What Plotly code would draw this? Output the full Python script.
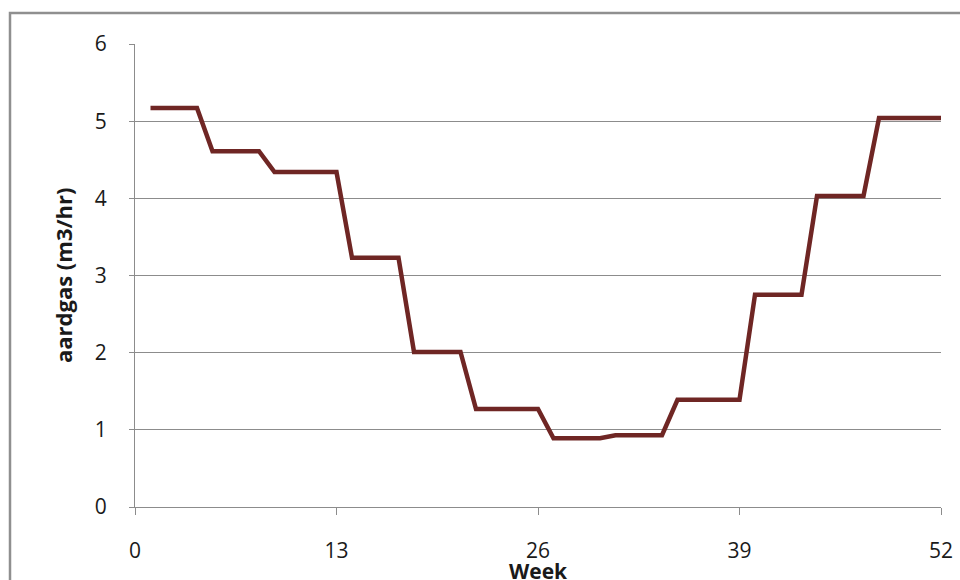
import plotly.graph_objects as go

# Weekly earth-gas consumption (monthly rates spread over weeks)
weeks = list(range(1, 53))
month_values = [5.17, 4.61, 4.34, 3.23, 2.01, 1.27, 0.89, 0.93, 1.39, 2.75, 4.03, 5.04]
weeks_per_month = [4, 4, 5, 4, 4, 5, 4, 4, 5, 4, 4, 5]
gas_rate = []
for v, n in zip(month_values, weeks_per_month):
    gas_rate.extend([v] * n)

x_ticks = [0, 13, 26, 39, 52]
y_ticks = [0, 1, 2, 3, 4, 5, 6]

W, H = 960, 580
L, R, T, B = 135, 19, 44, 73
pw, ph = W - L - R, H - T - B

font_family = "Open Sans, Lato, sans-serif"
grid_col = "#8c8c8c"

fig = go.Figure()
fig.add_trace(go.Scatter(
    x=weeks, y=gas_rate, mode="lines",
    line=dict(color="#6f2624", width=4.5),
    hoverinfo="x+y", showlegend=False,
))

fig.update_layout(
    width=W, height=H,
    margin=dict(l=L, r=R, t=T, b=B, pad=0),
    paper_bgcolor="white", plot_bgcolor="white",
    font=dict(family=font_family, size=21, color="#1a1a1a"),
    xaxis=dict(
        range=[0, 52], tickvals=x_ticks, ticktext=[str(t) for t in x_ticks],
        showgrid=False, zeroline=False, automargin=False,
        showline=True, linecolor=grid_col, linewidth=1,
        ticks="outside", ticklen=7, tickcolor=grid_col, tickwidth=1,
        ticklabelstandoff=18,
    ),
    yaxis=dict(
        range=[0, 6], tickvals=y_ticks, ticktext=[str(t) for t in y_ticks],
        showgrid=True, gridcolor=grid_col, gridwidth=1, zeroline=False,
        automargin=False,
        showline=True, linecolor=grid_col, linewidth=1,
        ticks="outside", ticklen=5, tickcolor=grid_col, tickwidth=1,
        ticklabelstandoff=18,
    ),
    annotations=[
        dict(text="<b>Week</b>", x=26, xref="x", y=-(571 - (H - B)) / ph, yref="paper",
             showarrow=False, xanchor="center", yanchor="middle",
             font=dict(size=21, family=font_family, color="#1a1a1a")),
        dict(text="<b>aardgas (m3/hr)</b>", x=(63 - L) / pw, xref="paper",
             y=((H - B) - 276) / ph, yref="paper", textangle=-90,
             showarrow=False, xanchor="center", yanchor="middle",
             font=dict(size=22, family=font_family, color="#1a1a1a")),
    ],
    shapes=[
        dict(type="rect", xref="paper", yref="paper",
             x0=(10 - L) / pw, x1=(W + 40 - L) / pw,
             y0=-(H + 40 - (H - B)) / ph, y1=1 + (T - 13) / ph,
             line=dict(color="#8f8f8f", width=2.5), fillcolor="rgba(0,0,0,0)",
             layer="below"),
    ],
)

fig.write_html("out.html")
